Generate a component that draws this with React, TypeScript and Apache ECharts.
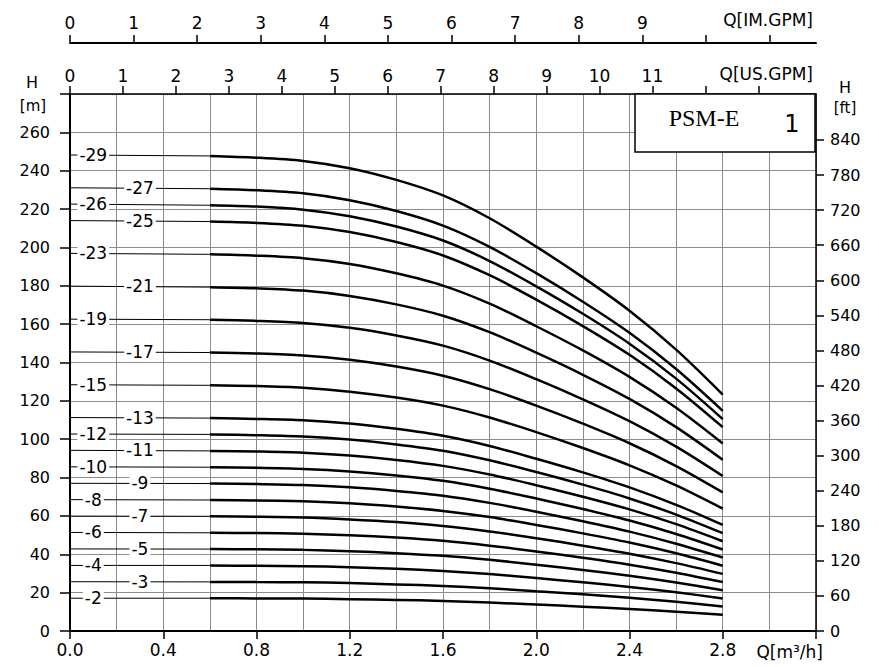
import React, { useEffect, useRef } from "react";
import * as echarts from "echarts";

// Flow points (m³/h): shut-off, then the working range 0.6 … 2.8
const Q_M3H = [0, 0.6, 0.8, 1.0, 1.2, 1.4, 1.6, 1.8, 2.0, 2.2, 2.4, 2.6, 2.8];

// Head (m) for each stage count
const H_2 = [17.1, 17.1, 17.0, 16.9, 16.6, 16.2, 15.7, 14.8, 13.8, 12.7, 11.5, 10.1, 8.5];
const H_3 = [25.7, 25.6, 25.5, 25.4, 25.0, 24.3, 23.5, 22.3, 20.7, 19.1, 17.3, 15.2, 12.8];
const H_4 = [34.2, 34.2, 34.0, 33.8, 33.3, 32.4, 31.3, 29.7, 27.6, 25.4, 23.0, 20.2, 17.0];
const H_5 = [42.8, 42.7, 42.6, 42.3, 41.6, 40.6, 39.2, 37.1, 34.6, 31.8, 28.8, 25.3, 21.3];
const H_6 = [51.4, 51.2, 51.1, 50.7, 49.9, 48.7, 47.0, 44.5, 41.5, 38.2, 34.6, 30.4, 25.5];
const H_7 = [59.9, 59.8, 59.6, 59.2, 58.2, 56.8, 54.8, 51.9, 48.4, 44.5, 40.3, 35.4, 29.8];
const H_8 = [68.5, 68.3, 68.1, 67.6, 66.6, 64.9, 62.6, 59.4, 55.3, 50.9, 46.1, 40.5, 34.0];
const H_9 = [77.0, 76.9, 76.6, 76.1, 74.9, 73.0, 70.5, 66.8, 62.2, 57.2, 51.8, 45.5, 38.3];
const H_10 = [85.6, 85.4, 85.1, 84.5, 83.2, 81.1, 78.3, 74.2, 69.1, 63.6, 57.6, 50.6, 42.5];
const H_11 = [94.2, 93.9, 93.6, 93.0, 91.5, 89.2, 86.1, 81.6, 76.0, 70.0, 63.4, 55.7, 46.8];
const H_12 = [102.7, 102.5, 102.1, 101.4, 99.8, 97.3, 94.0, 89.0, 82.9, 76.3, 69.1, 60.7, 51.0];
const H_13 = [111.3, 111.0, 110.6, 109.9, 108.2, 105.4, 101.8, 96.5, 89.8, 82.7, 74.9, 65.8, 55.3];
const H_15 = [128.4, 128.1, 127.7, 126.8, 124.8, 121.7, 117.5, 111.3, 103.7, 95.4, 86.4, 75.9, 63.8];
const H_17 = [145.5, 145.2, 144.7, 143.7, 141.4, 137.9, 133.1, 126.1, 117.5, 108.1, 97.9, 86.0, 72.3];
const H_19 = [162.6, 162.3, 161.7, 160.6, 158.1, 154.1, 148.8, 141.0, 131.3, 120.8, 109.4, 96.1, 80.8];
const H_21 = [179.8, 179.3, 178.7, 177.5, 174.7, 170.3, 164.4, 155.8, 145.1, 133.6, 121.0, 106.3, 89.3];
const H_23 = [196.9, 196.4, 195.7, 194.4, 191.4, 186.5, 180.1, 170.7, 158.9, 146.3, 132.5, 116.4, 97.8];
const H_25 = [214.0, 213.5, 212.8, 211.3, 208.0, 202.8, 195.8, 185.5, 172.8, 159.0, 144.0, 126.5, 106.3];
const H_26 = [222.6, 222.0, 221.3, 219.7, 216.3, 210.9, 203.6, 192.9, 179.7, 165.4, 149.8, 131.6, 110.5];
const H_27 = [231.1, 230.6, 229.8, 228.2, 224.6, 219.0, 211.4, 200.3, 186.6, 171.7, 155.5, 136.6, 114.8];
const H_29 = [248.2, 247.7, 246.8, 245.1, 241.3, 235.2, 227.1, 215.2, 200.4, 184.4, 167.0, 146.7, 123.3];

const STAGES = [2, 3, 4, 5, 6, 7, 8, 9, 10, 11, 12, 13, 15, 17, 19, 21, 23, 25, 26, 27, 29];
const HEADS = [H_2, H_3, H_4, H_5, H_6, H_7, H_8, H_9, H_10, H_11, H_12, H_13, H_15, H_17, H_19, H_21, H_23, H_25, H_26, H_27, H_29];
// where the "-N" label sits on the thin shut-off segment (m³/h)
const LABEL_Q = [0.1, 0.3, 0.1, 0.3, 0.1, 0.3, 0.1, 0.3, 0.1, 0.3, 0.1, 0.3, 0.1, 0.3, 0.1, 0.3, 0.1, 0.3, 0.1, 0.3, 0.1];

// tick values
const US_GPM_TICKS = [0, 1, 2, 3, 4, 5, 6, 7, 8, 9, 10, 11, 12, 13];
const US_GPM_LABELS = [0, 1, 2, 3, 4, 5, 6, 7, 8, 9, 10, 11];
const IM_GPM_TICKS = [0, 1, 2, 3, 4, 5, 6, 7, 8, 9, 10, 11];
const IM_GPM_LABELS = [0, 1, 2, 3, 4, 5, 6, 7, 8, 9];
const FT_TICKS = [0, 60, 120, 180, 240, 300, 360, 420, 480, 540, 600, 660, 720, 780, 840];

const Q_MAX = 3.2;
const H_MAX = 280;
const US_PER_M3H = 4.40287;
const IM_PER_M3H = 3.66615;
const FT_PER_M = 3.28084;

const FONT = "'DejaVu Sans', 'Liberation Sans', Arial, sans-serif";
const GRID_COLOR = "#8c8c8c";

export default function App() {
  const ref = useRef<HTMLDivElement>(null);

  useEffect(() => {
    if (!ref.current) return;
    const chart = echarts.init(ref.current, undefined, { renderer: "svg" });

    const series: any[] = [];
    STAGES.forEach((n, i) => {
      const h = HEADS[i];
      series.push({
        type: "line",
        name: "thin-" + n,
        data: [
          [Q_M3H[0], h[0]],
          [Q_M3H[1], h[1]],
        ],
        symbol: "none",
        silent: true,
        lineStyle: { color: "#000", width: 1 },
        z: 3,
      });
      series.push({
        type: "line",
        name: "stage-" + n,
        data: Q_M3H.slice(1).map((q, j) => [q, h[j + 1]]),
        symbol: "none",
        smooth: 0.3,
        silent: true,
        lineStyle: { color: "#000", width: 2.5 },
        z: 4,
      });
    });
    series.push({
      type: "scatter",
      name: "labels",
      data: STAGES.map((n, i) => [LABEL_Q[i], HEADS[i][0], "-" + n]),
      symbolSize: 0,
      itemStyle: { color: "#000", opacity: 1 },
      silent: true,
      z: 6,
      label: {
        show: true,
        position: "inside",
        formatter: (p: any) => p.data[2],
        color: "#000",
        opacity: 1,
        textBorderWidth: 0,
        fontSize: 17,
        fontFamily: FONT,
        backgroundColor: "#fff",
        padding: [0, 2],
      },
    });

    const axisLineBlack = (w: number) => ({ show: true, lineStyle: { color: "#000", width: w } });

    chart.setOption({
      animation: false,
      backgroundColor: "#fff",
      grid: { left: 70, right: 63, top: 94, bottom: 36, containLabel: false },
      xAxis: [
        {
          type: "value",
          position: "bottom",
          min: 0,
          max: Q_MAX,
          interval: 0.4,
          axisLine: { ...axisLineBlack(2), onZero: false },
          axisTick: { show: true, length: 8, lineStyle: { color: "#000", width: 1.5 } },
          axisLabel: {
            margin: 10,
            color: "#000",
            fontSize: 17,
            fontFamily: FONT,
            formatter: (v: number) => (v > 3.1 ? "" : v.toFixed(1)),
          },
          splitLine: { show: true, lineStyle: { color: GRID_COLOR, width: 1 } },
          minorTick: { show: false, splitNumber: 2 },
          minorSplitLine: { show: true, lineStyle: { color: GRID_COLOR, width: 1 } },
        },
        {
          type: "value",
          position: "top",
          offset: 0,
          min: 0,
          max: Q_MAX * US_PER_M3H,
          interval: 1,
          axisLine: { ...axisLineBlack(1.5), onZero: false },
          axisTick: { show: true, length: 8, customValues: US_GPM_TICKS, lineStyle: { color: "#000", width: 1.5 } },
          axisLabel: { margin: 10, color: "#000", fontSize: 17, fontFamily: FONT, customValues: US_GPM_LABELS },
          splitLine: { show: false },
        },
        {
          type: "value",
          position: "top",
          offset: 51,
          min: 0,
          max: Q_MAX * IM_PER_M3H,
          interval: 1,
          axisLine: { ...axisLineBlack(2), onZero: false },
          axisTick: { show: true, length: 8, customValues: IM_GPM_TICKS, lineStyle: { color: "#000", width: 1.5 } },
          axisLabel: { margin: 12, color: "#000", fontSize: 17, fontFamily: FONT, customValues: IM_GPM_LABELS },
          splitLine: { show: false },
        },
      ],
      yAxis: [
        {
          type: "value",
          position: "left",
          min: 0,
          max: H_MAX,
          interval: 20,
          axisLine: { ...axisLineBlack(2), onZero: false },
          axisTick: { show: true, length: 10, lineStyle: { color: "#000", width: 1.5 } },
          axisLabel: {
            margin: 20,
            color: "#000",
            fontSize: 16,
            fontFamily: FONT,
            formatter: (v: number) => (v >= 270 ? "" : String(v)),
          },
          splitLine: { show: true, lineStyle: { color: GRID_COLOR, width: 1 } },
        },
        {
          type: "value",
          position: "right",
          min: 0,
          max: H_MAX * FT_PER_M,
          interval: 60,
          axisLine: { ...axisLineBlack(1.5), onZero: false },
          axisTick: { show: true, length: 8, customValues: FT_TICKS, lineStyle: { color: "#000", width: 1.5 } },
          axisLabel: { margin: 14, color: "#000", fontSize: 16, fontFamily: FONT, customValues: FT_TICKS },
          splitLine: { show: false },
        },
      ],
      graphic: [
        {
          type: "rect",
          shape: { x: 635, y: 94, width: 180, height: 58 },
          style: { fill: "#fff", stroke: "#000", lineWidth: 1.5 },
          z: 100,
        },
        {
          type: "text",
          x: 704,
          y: 118,
          style: { text: "PSM-E", fontSize: 24, fontFamily: "'Liberation Serif', 'Times New Roman', serif", fill: "#000", align: "center", verticalAlign: "middle" },
          z: 101,
        },
        {
          type: "text",
          x: 792,
          y: 124,
          style: { text: "1", fontSize: 24, fontFamily: FONT, fill: "#000", align: "center", verticalAlign: "middle" },
          z: 101,
        },
        {
          type: "text",
          x: 32,
          y: 82,
          style: { text: "H", fontSize: 16, fontFamily: FONT, fill: "#000", align: "center", verticalAlign: "middle" },
        },
        {
          type: "text",
          x: 33,
          y: 106,
          style: { text: "[m]", fontSize: 15, fontFamily: FONT, fill: "#000", align: "center", verticalAlign: "middle" },
        },
        {
          type: "text",
          x: 845,
          y: 87,
          style: { text: "H", fontSize: 16, fontFamily: FONT, fill: "#000", align: "center", verticalAlign: "middle" },
        },
        {
          type: "text",
          x: 845,
          y: 108,
          style: { text: "[ft]", fontSize: 15, fontFamily: FONT, fill: "#000", align: "center", verticalAlign: "middle" },
        },
        {
          type: "text",
          x: 813,
          y: 20,
          style: { text: "Q[IM.GPM]", fontSize: 17, fontFamily: FONT, fill: "#000", align: "right", verticalAlign: "middle" },
        },
        {
          type: "text",
          x: 813,
          y: 74,
          style: { text: "Q[US.GPM]", fontSize: 17, fontFamily: FONT, fill: "#000", align: "right", verticalAlign: "middle" },
        },
        {
          type: "text",
          x: 823,
          y: 652,
          style: { text: "Q[m³/h]", fontSize: 17, fontFamily: FONT, fill: "#000", align: "right", verticalAlign: "middle" },
        },
      ],
      series,
    });

    return () => chart.dispose();
  }, []);

  return (
    <div
      ref={ref}
      style={{ position: "fixed", left: 0, top: 0, width: 879, height: 667, background: "#fff" }}
    />
  );
}
